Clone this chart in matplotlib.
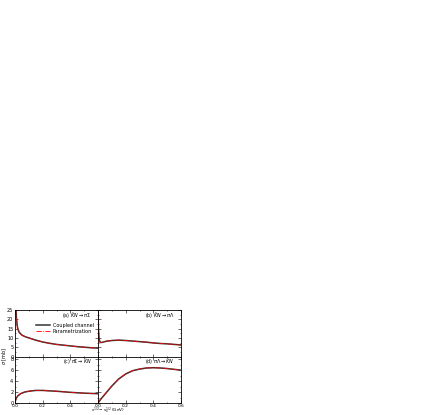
import matplotlib

matplotlib.use("Agg")
import matplotlib.pyplot as plt
from matplotlib.ticker import MultipleLocator

# (a) KbarN -> pi Sigma
xa = [0.004, 0.006, 0.01, 0.015, 0.02, 0.03, 0.05, 0.075, 0.1, 0.15, 0.2, 0.25, 0.3, 0.35, 0.4, 0.45, 0.5, 0.55, 0.6]
ya = [40.0, 30.0, 21.0, 17.0, 15.0, 13.0, 11.5, 10.6, 10.0, 8.8, 7.8, 7.1, 6.5, 6.1, 5.7, 5.3, 5.0, 4.7, 4.5]
# (b) KbarN -> pi Lambda
xb = [0.001, 0.003, 0.006, 0.01, 0.015, 0.02, 0.03, 0.06, 0.1, 0.15, 0.2, 0.25, 0.3, 0.35, 0.4, 0.45, 0.5, 0.55, 0.6]
yb = [23.0, 15.0, 11.0, 8.8, 7.7, 7.5, 7.6, 8.2, 8.6, 8.8, 8.6, 8.3, 8.0, 7.7, 7.3, 7.0, 6.8, 6.5, 6.2]
# (c) pi Sigma -> KbarN
xc = [0.0, 0.005, 0.01, 0.02, 0.04, 0.07, 0.1, 0.15, 0.2, 0.25, 0.3, 0.35, 0.4, 0.45, 0.5, 0.55, 0.6]
yc = [0.0, 0.6, 0.9, 1.3, 1.7, 2.0, 2.15, 2.3, 2.3, 2.22, 2.15, 2.05, 1.95, 1.87, 1.8, 1.75, 1.7]
# (d) pi Lambda -> KbarN
xd = [0.0, 0.02, 0.05, 0.1, 0.15, 0.2, 0.25, 0.3, 0.35, 0.4, 0.45, 0.5, 0.55, 0.6]
yd = [0.0, 0.7, 1.6, 3.1, 4.4, 5.3, 5.9, 6.2, 6.4, 6.45, 6.4, 6.3, 6.15, 6.0]

panels = [
    (xa, ya, r"(a) $\bar{K}N\rightarrow\pi\Sigma$"),
    (xb, yb, r"(b) $\bar{K}N\rightarrow\pi\Lambda$"),
    (xc, yc, r"(c) $\pi\Sigma\rightarrow\bar{K}N$"),
    (xd, yd, r"(d) $\pi\Lambda\rightarrow\bar{K}N$"),
]

plt.rcParams["font.size"] = 3.5
plt.rcParams["axes.linewidth"] = 0.6

fig = plt.figure(figsize=(4.43, 4.15), dpi=100)
left, mid_w = 15 / 443, 83 / 443
bottom, h = 1 - 403 / 415, 46.5 / 415

axes = []
for i, (x, y, label) in enumerate(panels):
    col, row = i % 2, i // 2
    ax = fig.add_axes([left + col * mid_w, bottom + (1 - row) * h, mid_w, h])
    ax.plot(x, y, color="#333333", lw=1.1, label="Coupled channel")
    ax.plot(x, y, color="red", lw=0.6, ls="-.", label="Parametrization")
    ax.set_xlim(0, 0.6)
    if row == 0:
        ax.set_ylim(0, 25)
        ax.yaxis.set_major_locator(MultipleLocator(5))
        ax.tick_params(labelbottom=False)
    else:
        ax.set_ylim(0, 8.5)
        ax.yaxis.set_major_locator(MultipleLocator(2))
    ax.xaxis.set_major_locator(MultipleLocator(0.2))
    ax.xaxis.set_minor_locator(MultipleLocator(0.1))
    ax.yaxis.set_minor_locator(MultipleLocator(2.5 if row == 0 else 1))
    ax.tick_params(which="both", direction="in", top=True, right=True, pad=1.2,
                   width=0.4)
    ax.tick_params(axis="x", pad=0.5, labelsize=3.2)
    ax.tick_params(which="major", length=2)
    ax.tick_params(which="minor", length=1)
    if col == 1:
        ax.tick_params(labelleft=False)
    ax.text(0.92, 0.88, label, transform=ax.transAxes, ha="right", va="center")
    axes.append(ax)

# hide overlapping last tick label on lower-left x axis
axes[2].set_xticks([0.0, 0.2, 0.4])
axes[2].xaxis.set_minor_locator(MultipleLocator(0.1))

axes[0].legend(loc="upper right", bbox_to_anchor=(0.99, 0.80), frameon=False,
               handlelength=3.0, handletextpad=0.5, labelspacing=0.2,
               borderpad=0.2)

fig.text(0.010, 1 - 356.5 / 415, r"$\sigma$ [mb]", rotation=90, ha="center", va="center")
fig.text(108 / 443, 1 - 411 / 415, r"$s^{1/2}-s_0^{1/2}$ (GeV)", ha="center", va="center",
         fontsize=3.0)

fig.savefig("out.png", dpi=100)
